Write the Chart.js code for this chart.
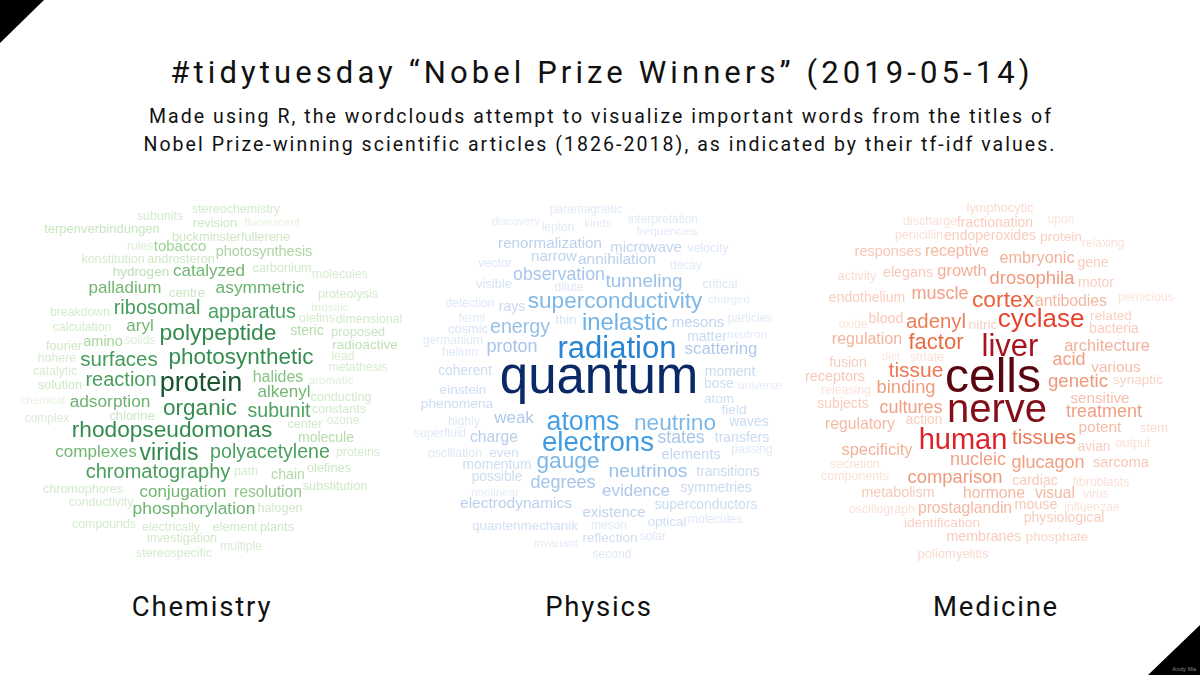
<!DOCTYPE html>
<html><head><meta charset="utf-8">
<script src="https://cdn.jsdelivr.net/npm/chart.js@4.4.1/dist/chart.umd.min.js"></script>
<style>
body{margin:0;width:1200px;height:675px;background:#fff;position:relative;overflow:hidden;font-family:Roboto,'Liberation Sans',Arial,sans-serif;color:#111}
.tl{position:absolute;left:0;top:0;width:0;height:0;border-top:43px solid #000;border-right:44px solid transparent}
.br{position:absolute;right:0;bottom:0;width:0;height:0;border-bottom:50px solid #000;border-left:52px solid transparent}
.sig{position:absolute;right:4px;bottom:3px;font-size:6px;color:#888;font-family:'Liberation Sans',Arial}
#title{position:absolute;top:56px;left:0;width:1200px;text-align:center;font-size:31px;line-height:34px;letter-spacing:4.1px;text-indent:4px}
#sub{position:absolute;top:103px;left:0;width:1200px;text-align:center;font-size:19.5px;line-height:28px;letter-spacing:2.05px;text-indent:2px}
.cloud{position:absolute;top:190px}
.lbl{position:absolute;top:591px;width:300px;text-align:center;font-size:27.5px;line-height:32px;letter-spacing:1.8px;text-indent:2px}
</style></head>
<body>
<div class="tl"></div><div class="br"></div><div class="sig">Andy Ma</div>
<div id="title">#tidytuesday “Nobel Prize Winners” (2019-05-14)</div>
<div id="sub">Made using R, the wordclouds attempt to visualize important words from the titles of<br>Nobel Prize-winning scientific articles (1826-2018), as indicated by their tf-idf values.</div>
<canvas id="chemC" class="cloud" width="400" height="380" style="left:10px"></canvas>
<canvas id="physC" class="cloud" width="400" height="380" style="left:400px"></canvas>
<canvas id="medC" class="cloud" width="400" height="380" style="left:795px"></canvas>
<div class="lbl" style="left:51px">Chemistry</div>
<div class="lbl" style="left:448px">Physics</div>
<div class="lbl" style="left:845px">Medicine</div>
<script>
// ════ DATA: word, tf-idf score, layout position (cloud coords, centre = 0,0) ════
const chemWords=['stereochemistry','subunits','revision','fluorescent','terpenverbindungen','buckminsterfullerene','rules','tobacco','photosynthesis','konstitution','androsteron','hydrogen','catalyzed','carbonium','molecules','palladium','centre','asymmetric','proteolysis','breakdown','ribosomal','apparatus','mosaic','olefins','dimensional','calculation','aryl','polypeptide','steric','proposed','fourier','amino','solids','radioactive','lead','metathesis','hohere','surfaces','photosynthetic','catalytic','reaction','protein','halides','aromatic','solution','chemical','adsorption','organic','alkenyl','conducting','subunit','constants','ozone','center','complex','chlorine','rhodopseudomonas','molecule','complexes','viridis','polyacetylene','proteins','chromatography','path','chain','olefines','chromophores','conjugation','resolution','substitution','conductivity','phosphorylation','halogen','compounds','electrically','element','plants','investigation','multiple','stereospecific'];
const chemScore=[12.5,12.4,12.8,11.3,13,12.8,12,15,14.5,12.5,12.7,13.5,17,12.6,12.4,17,13,17.4,12.6,12.3,20,19.8,11.8,12.4,12.5,12.5,17,22.9,14,13,12.7,14.5,12,13.5,12.2,12.2,12.3,20.5,22.5,12.2,20,27,16,11.8,12.8,11.2,17.3,22.5,17,12.6,19.5,12.6,12,12.6,12,12.9,22.7,14,17,23,19.6,12.4,20,12.3,14.2,12.8,12.5,17,15.7,12.8,12.4,17.4,12.7,12.4,12.4,12.6,12.8,12.6,12.2,12.4];
const chemX=[26,-50,5,62,-108,21,-70,-30,54,-97,-29,-69,-1,72,130,-85,-23,50,138,-130,-53,42,120,107,159,-128,-70,8,97,148,-146,-107,-70,155,133,148,-153,-91,31,-155,-89,-9,68,121,-150,-167,-100,-10,74,131,69,129,133,95,-163,-78,-38,116,-114,-41,60,148,-52,36,78,119,-127,-27,58,125,-109,-16,70,-106,-39,25,67,-28,31,-36];
const chemY=[-171,-164,-157,-157,-151,-143,-134,-134,-128,-121,-121,-108,-109,-112,-106,-92,-87,-92,-86,-68,-72,-68,-73,-62,-61,-53,-54,-47,-49,-48,-34,-38,-40,-35,-24,-13,-22,-20,-23,-9,0,3,-3,0,5,21,22,28,12,17,31,29,40,44,38,36,50,58,72,73,72,72,92,91,95,88,109,112,112,106,122,129,128,144,147,147,147,158,166,173];

const physWords=['paramagnetic','discovery','lepton','kinds','interpretation','frequencies','renormalization','microwave','velocity','vector','narrow','annihilation','decay','observation','tunneling','visible','dilute','critical','superconductivity','charged','detection','rays','fermi','thin','inelastic','mesons','particles','cosmic','energy','germanium','matter','neutron','helium','proton','radiation','scattering','coherent','quantum','moment','einstein','bose','universe','phenomena','atom','field','highly','weak','atoms','neutrino','waves','superfluid','charge','electrons','states','transfers','passing','oscillation','even','gauge','elements','momentum','neutrinos','transitions','possible','degrees','evidence','symmetries','nonlinear','electrodynamics','superconductors','existence','optical','molecules','quantenmechanik','meson','reflection','solar','invariant','second'];
const physScore=[12,11.5,12,11.6,12,11.8,15.2,15,12.3,12.4,15,15.4,12,17.8,19,12.9,12.1,12.4,22.6,11.7,12.1,14,12,13,23.8,15,12,12.8,19.6,12,14,11.8,12.2,18,31,16.8,13.8,51,14,13.6,13.8,11.6,13.7,13.5,13.6,12.2,17,26.8,22.7,13.9,12,15.7,27.6,17.7,14,12,12.3,13.5,22.7,14.5,13.8,19.2,13.9,13.8,18,17,14,11.7,15.5,13.9,14.9,13.5,12,13.4,12,13.6,12,11.6,12.1];
const physX=[-14,-84,-42,-2,63,67,-50,46,108,-105,-46,17,86,-41,44,-106,-31,120,15,129,-130,-88,-128,-34,25,98,150,-132,-80,-147,107,147,-140,-88,17,121,-135,-1,130,-137,119,160,-143,119,134,-136,-86,-17,75,149,-160,-106,-2,81,142,152,-145,-96,-32,91,-103,48,128,-103,-37,36,116,-105,-84,106,14,67,115,-75,9,10,53,-44,12];
const physY=[-171,-158,-153,-156,-161,-149,-137,-133,-132,-117,-124,-121,-115,-105,-99,-96,-93,-96,-79,-81,-77,-73,-62,-60,-57,-58,-62,-51,-53,-40,-43,-46,-28,-33,-31,-31,-9,-2,-8,10,4,6,24,19,30,41,38,42,43,42,53,57,63,58,58,69,73,73,81,75,85,91,92,97,103,111,108,112,123,125,133,142,139,146,145,158,156,164,174];

const medWords=['lymphocytic','discharge','fractionation','upon','penicillin','endoperoxides','protein','relaxing','responses','receptive','embryonic','gene','activity','elegans','growth','drosophila','motor','endothelium','muscle','cortex','antibodies','pernicious','cyclase','related','bacteria','oxide','blood','adenyl','nitric','liver','regulation','factor','architecture','fusion','diet','striate','acid','various','receptors','tissue','cells','genetic','synaptic','releasing','binding','sensitive','subjects','cultures','nerve','treatment','regulatory','action','potent','stem','human','tissues','avian','output','specificity','nucleic','glucagon','sarcoma','secretion','components','comparison','cardiac','fibroblasts','metabolism','hormone','visual','virus','oscillograph','prostaglandin','mouse','influenzae','identification','physiological','membranes','phosphate','poliomyelitis'];
const medScore=[12.8,12.5,14,12,12.5,14,13.7,12.2,14.5,15.8,16.3,14,12.7,14.3,16.5,18.4,14,14,18,22.8,15.8,12.2,26,13.7,14,12,14.3,20.4,13.7,31,16,22,16.4,14,11.5,12.5,18,15.3,14.4,21,48,18.6,13.6,12.3,18.3,15.2,14,18,40,18,15.7,13.8,15.4,12.9,29,20.6,13.8,12.6,16.4,18,18,14.6,12.3,12.5,18.4,14.2,12.5,14.3,15.7,15.6,12.3,12.4,15.7,14.3,12.2,13.7,14.1,14.2,13.4,13];
const medX=[5,-65,0,66,-76,-5,66,108,-107,-38,42,98,-138,-87,-33,37,101,-128,-55,8,76,151,46,116,119,-142,-109,-59,-12,15,-128,-59,112,-147,-104,-68,74,121,-160,-79,-2,83,143,-149,-89,105,-152,-84,2,109,-135,-71,105,159,-32,49,99,138,-118,-17,53,126,-140,-140,-40,40,106,-97,-1,60,101,-113,-30,41,97,-53,69,-11,62,-42];
const medY=[-172,-159,-157,-161,-145,-144,-143,-137,-128,-129,-122,-117,-104,-107,-109,-102,-97,-82,-86,-80,-79,-83,-61,-64,-51,-56,-61,-58,-55,-33,-41,-38,-34,-17,-23,-23,-20,-13,-3,-9,-2,1,0,10,8,18,24,28,30,32,44,40,47,48,60,58,67,63,70,80,83,83,84,96,97,101,102,113,113,113,114,129,128,125,127,143,138,157,157,174];

// 색상 스케일 (score → colour)
const CHEM_STOPS=[[11,'#e8f4e4'],[12.5,'#d4eacd'],[14,'#b4dbab'],[15.5,'#95ca8d'],[17,'#72b672'],[19,'#51a562'],[21,'#3f9957'],[23,'#32894b'],[27,'#17552d']];
const PHYS_STOPS=[[11,'#e9f0f9'],[12.5,'#dce7f5'],[14,'#c9dbf0'],[16,'#b4ccea'],[18,'#a5c5e9'],[20,'#93bfe8'],[23,'#7cb7e7'],[26,'#4fa5e6'],[28,'#3a98e2'],[31,'#2a84d6'],[51,'#0b2966']];
const MED_STOPS=[[11,'#fdebe5'],[12.5,'#fbe0d6'],[14,'#f8cdbd'],[16,'#f4b49d'],[18,'#f0a084'],[20,'#ed8460'],[22,'#ea6a42'],[26,'#e7432b'],[29,'#de2228'],[31,'#a8131d'],[40,'#840e18'],[48,'#5a0611']];

const hex2rgb=h=>[1,3,5].map(i=>parseInt(h.substr(i,2),16));
function colorFor(stops,v){
  if(v<=stops[0][0])return stops[0][1];
  for(let i=1;i<stops.length;i++){
    if(v<=stops[i][0]){const [a,ca]=stops[i-1],[b,cb]=stops[i];const t=(v-a)/(b-a);const A=hex2rgb(ca),B=hex2rgb(cb);
      return `rgb(${A.map((x,k)=>Math.round(x+(B[k]-x)*t)).join(',')})`;}
  }
  return stops[stops.length-1][1];
}

const wordPlugin={id:'words',afterDatasetsDraw(chart){
  const ds=chart.data.datasets[0],meta=chart.getDatasetMeta(0),ctx=chart.ctx;
  ctx.save();ctx.textAlign='center';ctx.textBaseline='alphabetic';
  meta.data.forEach((pt,i)=>{
    const s=ds.scores[i];
    ctx.font=`${s}px "Liberation Sans", Arial, sans-serif`;
    ctx.fillStyle=colorFor(ds.stops,s);
    ctx.fillText(ds.words[i],pt.x,pt.y+0.3*s);
  });
  ctx.restore();
}};

function drawCloud(id,words,score,xs,ys,stops){
  return new Chart(document.getElementById(id).getContext('2d'),{
    type:'scatter',
    data:{datasets:[{data:xs.map((x,i)=>({x,y:ys[i]})),words,scores:score,stops,pointRadius:0,pointHoverRadius:0}]},
    options:{responsive:false,animation:false,events:[],layout:{padding:0},
      plugins:{legend:{display:false},tooltip:{enabled:false}},
      scales:{x:{type:'linear',min:-200,max:200,display:false},y:{type:'linear',min:-190,max:190,reverse:true,display:false}}},
    plugins:[wordPlugin]
  });
}
drawCloud('chemC',chemWords,chemScore,chemX,chemY,CHEM_STOPS);
drawCloud('physC',physWords,physScore,physX,physY,PHYS_STOPS);
drawCloud('medC',medWords,medScore,medX,medY,MED_STOPS);
</script>
</body></html>
